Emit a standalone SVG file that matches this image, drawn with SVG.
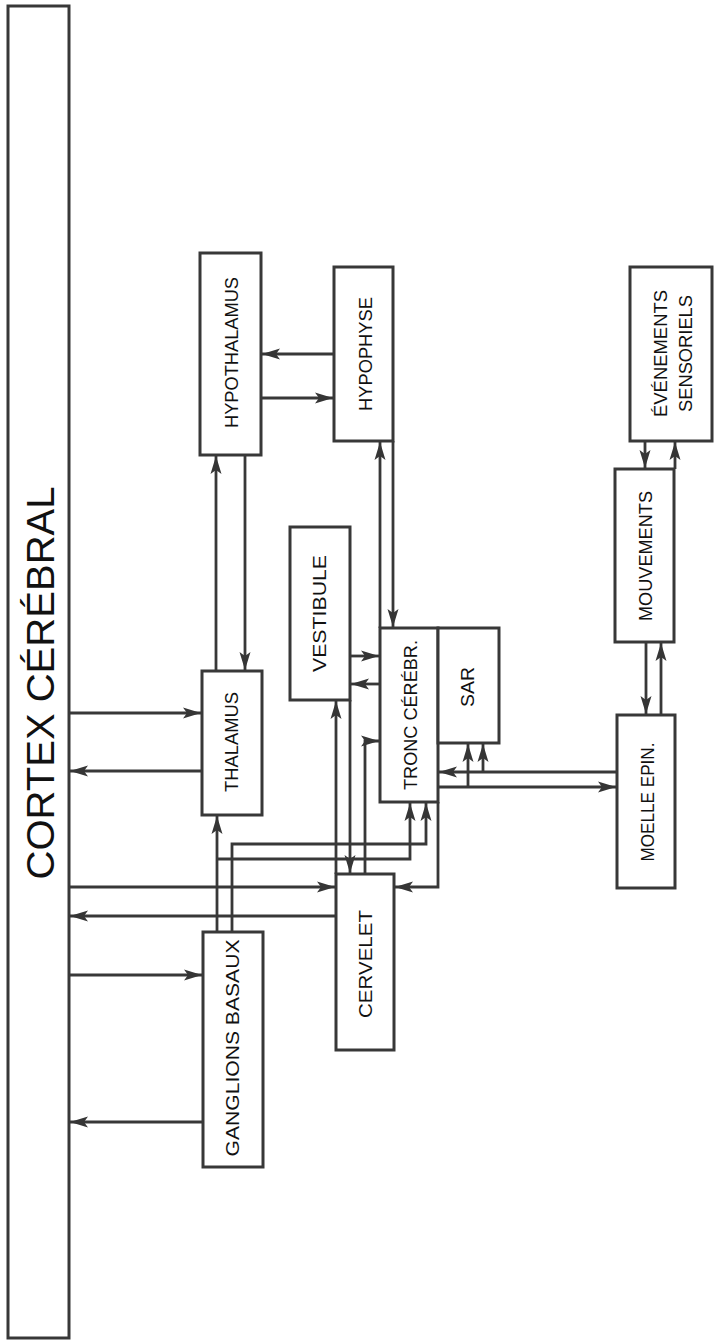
<svg xmlns="http://www.w3.org/2000/svg" width="714" height="1343" viewBox="0 0 714 1343">
<defs>
<marker id="ah" markerUnits="userSpaceOnUse" markerWidth="20" markerHeight="14" refX="18" refY="6" orient="auto">
<path d="M0,0.5 L18,6 L0,11.5 L4,6 z" fill="#353535"/>
</marker>
<style>
.box{fill:#fff;stroke:#383838;stroke-width:3}
.lbl{font-family:"Liberation Sans",Arial,sans-serif;font-size:19px;fill:#111;text-anchor:middle;dominant-baseline:central}
.big{font-size:38px}
.c{fill:none;stroke:#383838;stroke-width:2.8;marker-end:url(#ah)}
</style>
</defs>
<rect width="714" height="1343" fill="#fff"/>
<g id="connectors">
<path class="c" d="M334,354 H262"/>
<path class="c" d="M261,398 H333"/>
<path class="c" d="M216,671 V456"/>
<path class="c" d="M245,455 V670"/>
<path class="c" d="M380,628 V442"/>
<path class="c" d="M393,441 V627"/>
<path class="c" d="M645,441 V468"/>
<path class="c" d="M675,469 V442"/>
<path class="c" d="M646,642 V714"/>
<path class="c" d="M661,715 V643"/>
<path class="c" d="M617,772 H439"/>
<path class="c" d="M438,787 H616"/>
<path class="c" d="M468,787 V744"/>
<path class="c" d="M483,772 V744"/>
<path class="c" d="M350,656 H379"/>
<path class="c" d="M380,684 H351"/>
<path class="c" d="M336,874 V701"/>
<path class="c" d="M350,700 V873"/>
<path class="c" d="M365,874 V741 H379"/>
<path class="c" d="M438,802 V887 H395"/>
<path class="c" d="M217,932 V816"/>
<path class="c" d="M217,859 H410 V803"/>
<path class="c" d="M232,932 V844 H426 V803"/>
<path class="c" d="M69,713 H201"/>
<path class="c" d="M202,771 H70"/>
<path class="c" d="M69,887 H335"/>
<path class="c" d="M336,916 H70"/>
<path class="c" d="M69,975 H202"/>
<path class="c" d="M203,1122 H70"/>
</g>
<g id="cortex"><rect class="box" x="8" y="6" width="61" height="1332"/>
<text class="lbl big" transform="translate(41,683) rotate(-90)" textLength="393" lengthAdjust="spacingAndGlyphs">CORTEX CÉRÉBRAL</text></g>
<g id="hypothalamus"><rect class="box" x="200" y="253" width="61" height="202"/>
<text class="lbl" transform="translate(231,352.5) rotate(-90)" textLength="151" lengthAdjust="spacingAndGlyphs">HYPOTHALAMUS</text></g>
<g id="hypophyse"><rect class="box" x="334" y="267" width="59" height="174"/>
<text class="lbl" transform="translate(365,354) rotate(-90)" textLength="114" lengthAdjust="spacingAndGlyphs">HYPOPHYSE</text></g>
<g id="evenements"><rect class="box" x="630" y="267" width="82" height="174"/>
<text class="lbl" transform="translate(660,353.5) rotate(-90)" textLength="127" lengthAdjust="spacingAndGlyphs">ÉVÉNEMENTS</text>
<text class="lbl" transform="translate(685,353.5) rotate(-90)" textLength="117" lengthAdjust="spacingAndGlyphs">SENSORIELS</text></g>
<g id="mouvements"><rect class="box" x="615" y="469" width="59" height="173"/>
<text class="lbl" transform="translate(645,556) rotate(-90)" textLength="130" lengthAdjust="spacingAndGlyphs">MOUVEMENTS</text></g>
<g id="vestibule"><rect class="box" x="290" y="527" width="60" height="173"/>
<text class="lbl" transform="translate(319,613.5) rotate(-90)" textLength="117" lengthAdjust="spacingAndGlyphs">VESTIBULE</text></g>
<g id="thalamus"><rect class="box" x="202" y="671" width="60" height="144"/>
<text class="lbl" transform="translate(231,742) rotate(-90)" textLength="100" lengthAdjust="spacingAndGlyphs">THALAMUS</text></g>
<g id="tronc"><rect class="box" x="380" y="628" width="58" height="174"/>
<text class="lbl" transform="translate(410,715) rotate(-90)" textLength="150" lengthAdjust="spacingAndGlyphs">TRONC CÉRÉBR.</text></g>
<g id="sar"><rect class="box" x="438" y="628" width="61" height="115"/>
<text class="lbl" transform="translate(467,687) rotate(-90)" textLength="40" lengthAdjust="spacingAndGlyphs">SAR</text></g>
<g id="moelle"><rect class="box" x="617" y="715" width="58" height="173"/>
<text class="lbl" transform="translate(647,802) rotate(-90)" textLength="119" lengthAdjust="spacingAndGlyphs">MOELLE EPIN.</text></g>
<g id="cervelet"><rect class="box" x="336" y="874" width="58" height="176"/>
<text class="lbl" transform="translate(365,964) rotate(-90)" textLength="108" lengthAdjust="spacingAndGlyphs">CERVELET</text></g>
<g id="ganglions"><rect class="box" x="203" y="932" width="60" height="235"/>
<text class="lbl" transform="translate(232,1048) rotate(-90)" textLength="217" lengthAdjust="spacingAndGlyphs">GANGLIONS BASAUX</text></g>
</svg>
